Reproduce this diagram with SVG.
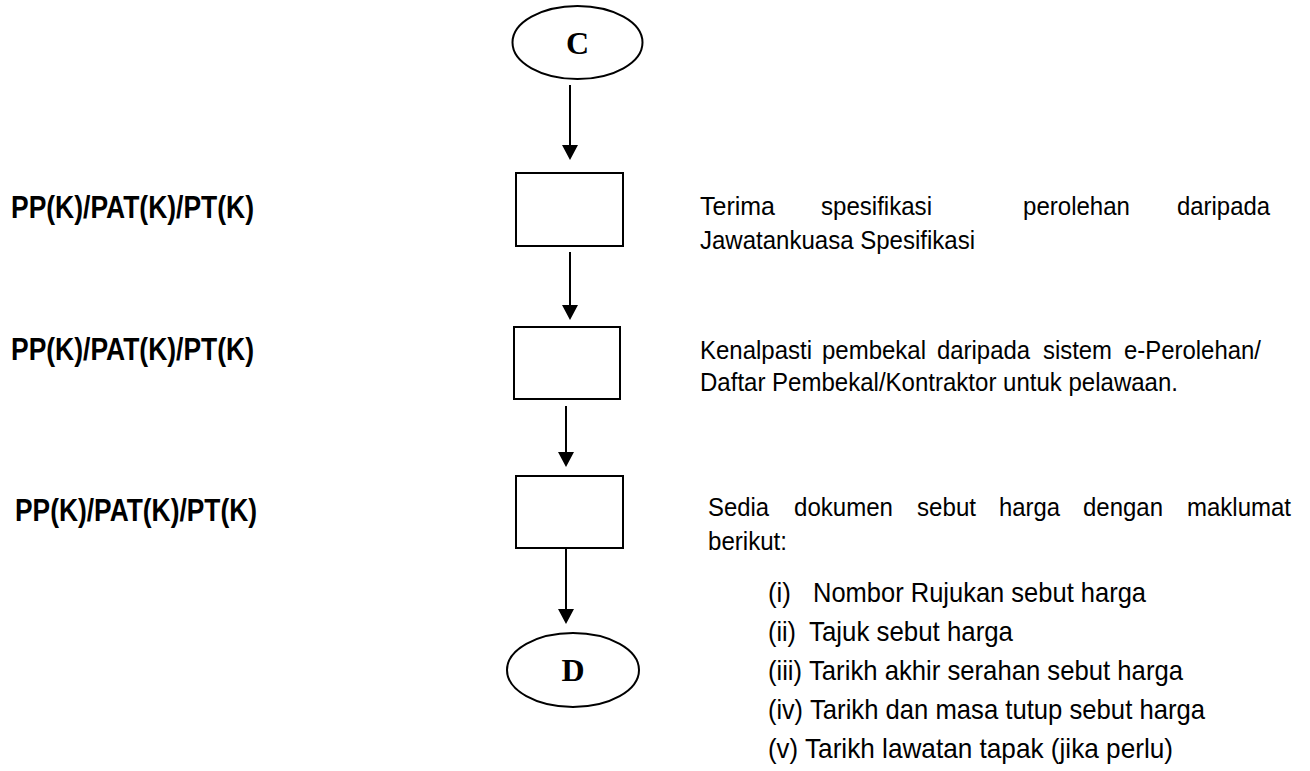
<svg xmlns="http://www.w3.org/2000/svg" width="1310" height="771" viewBox="0 0 1310 771">
<style>
.term{fill:#fff;stroke:#000;stroke-width:2}
.box{fill:#fff;stroke:#000;stroke-width:2}
.tl{font-family:"Liberation Serif","Times New Roman",serif;font-weight:bold;font-size:32px;text-anchor:middle;fill:#000}
.lab{font-family:"Liberation Sans",Arial,sans-serif;font-weight:bold;font-size:32px;fill:#000}
.bd{font-family:"Liberation Sans",Arial,sans-serif;font-size:26px;fill:#000}
.li{font-family:"Liberation Sans",Arial,sans-serif;font-size:28px;fill:#000}
.conn{stroke:#000;stroke-width:2;fill:none;marker-end:url(#ah)}
</style>
<defs>
<marker id="ah" markerUnits="userSpaceOnUse" markerWidth="16" markerHeight="16" viewBox="0 0 16 16" refX="9" refY="8" orient="auto">
<path d="M0,0 L15,8 L0,16 Z" fill="#000"/>
</marker>
</defs>
<rect width="1310" height="771" fill="#fff"/>
<g id="connectors">
<line class="conn" x1="570" y1="85" x2="570" y2="154"/>
<line class="conn" x1="570" y1="252" x2="570" y2="314"/>
<line class="conn" x1="566" y1="406" x2="566" y2="461"/>
<line class="conn" x1="566" y1="548" x2="566" y2="618"/>
</g>
<g id="nodeC">
<ellipse class="term" cx="577.5" cy="42.5" rx="65" ry="36.5"/>
<text class="tl" x="577.5" y="54">C</text>
</g>
<g id="step1">
<rect class="box" x="516" y="173" width="107" height="73"/>
</g>
<g id="step2">
<rect class="box" x="514" y="327" width="106" height="72"/>
</g>
<g id="step3">
<rect class="box" x="516" y="476" width="107" height="72"/>
</g>
<g id="nodeD">
<ellipse class="term" cx="573" cy="670" rx="66" ry="37"/>
<text class="tl" x="573" y="681">D</text>
</g>
<g id="labels">
<text class="lab" x="11" y="218" textLength="243" lengthAdjust="spacingAndGlyphs">PP(K)/PAT(K)/PT(K)</text>
<text class="lab" x="11" y="360" textLength="243" lengthAdjust="spacingAndGlyphs">PP(K)/PAT(K)/PT(K)</text>
<text class="lab" x="15" y="521" textLength="242" lengthAdjust="spacingAndGlyphs">PP(K)/PAT(K)/PT(K)</text>
</g>
<g id="desc1" class="bd">
<text x="700" y="215" textLength="75" lengthAdjust="spacingAndGlyphs">Terima</text>
<text x="821" y="215" textLength="111" lengthAdjust="spacingAndGlyphs">spesifikasi</text>
<text x="1023" y="215" textLength="107" lengthAdjust="spacingAndGlyphs">perolehan</text>
<text x="1177" y="215" textLength="93" lengthAdjust="spacingAndGlyphs">daripada</text>
<text x="700" y="249" textLength="275" lengthAdjust="spacingAndGlyphs">Jawatankuasa Spesifikasi</text>
</g>
<g id="desc2" class="bd">
<text x="700" y="359" textLength="112" lengthAdjust="spacingAndGlyphs">Kenalpasti</text>
<text x="822" y="359" textLength="104" lengthAdjust="spacingAndGlyphs">pembekal</text>
<text x="937" y="359" textLength="93" lengthAdjust="spacingAndGlyphs">daripada</text>
<text x="1043" y="359" textLength="69" lengthAdjust="spacingAndGlyphs">sistem</text>
<text x="1124" y="359" textLength="137" lengthAdjust="spacingAndGlyphs">e-Perolehan/</text>
<text x="700" y="391" textLength="478" lengthAdjust="spacingAndGlyphs">Daftar Pembekal/Kontraktor untuk pelawaan.</text>
</g>
<g id="desc3">
<text class="bd" x="708" y="516" textLength="61" lengthAdjust="spacingAndGlyphs">Sedia</text>
<text class="bd" x="794" y="516" textLength="99" lengthAdjust="spacingAndGlyphs">dokumen</text>
<text class="bd" x="917" y="516" textLength="59" lengthAdjust="spacingAndGlyphs">sebut</text>
<text class="bd" x="999" y="516" textLength="61" lengthAdjust="spacingAndGlyphs">harga</text>
<text class="bd" x="1083" y="516" textLength="80" lengthAdjust="spacingAndGlyphs">dengan</text>
<text class="bd" x="1187" y="516" textLength="104" lengthAdjust="spacingAndGlyphs">maklumat</text>
<text class="bd" x="708" y="550" textLength="79" lengthAdjust="spacingAndGlyphs">berikut:</text>
<text class="li" x="768" y="602" textLength="23" lengthAdjust="spacingAndGlyphs">(i)</text>
<text class="li" x="813" y="602" textLength="333" lengthAdjust="spacingAndGlyphs">Nombor Rujukan sebut harga</text>
<text class="li" x="768" y="641" textLength="28" lengthAdjust="spacingAndGlyphs">(ii)</text>
<text class="li" x="809" y="641" textLength="204" lengthAdjust="spacingAndGlyphs">Tajuk sebut harga</text>
<text class="li" x="768" y="680" textLength="34" lengthAdjust="spacingAndGlyphs">(iii)</text>
<text class="li" x="809" y="680" textLength="374" lengthAdjust="spacingAndGlyphs">Tarikh akhir serahan sebut harga</text>
<text class="li" x="768" y="719" textLength="35" lengthAdjust="spacingAndGlyphs">(iv)</text>
<text class="li" x="810" y="719" textLength="395" lengthAdjust="spacingAndGlyphs">Tarikh dan masa tutup sebut harga</text>
<text class="li" x="768" y="758" textLength="30" lengthAdjust="spacingAndGlyphs">(v)</text>
<text class="li" x="805" y="758" textLength="368" lengthAdjust="spacingAndGlyphs">Tarikh lawatan tapak (jika perlu)</text>
</g>
</svg>
